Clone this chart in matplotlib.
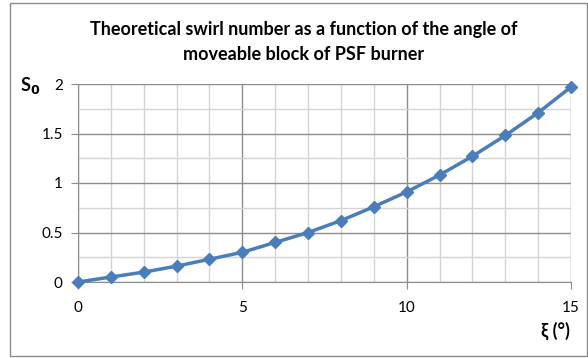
import matplotlib
matplotlib.use("Agg")
import matplotlib.pyplot as plt
from matplotlib.patches import Rectangle
from matplotlib.ticker import MultipleLocator, FuncFormatter

# swirl number vs block angle
angle = [0, 1, 2, 3, 4, 5, 6, 7, 8, 9, 10, 11, 12, 13, 14, 15]
swirl = [0.0, 0.05, 0.10, 0.16, 0.23, 0.30, 0.40, 0.50, 0.62, 0.76,
         0.91, 1.08, 1.27, 1.48, 1.71, 1.97]

plt.rcParams["font.family"] = ["Lato", "DejaVu Sans"]

fig = plt.figure(figsize=(5.88, 3.58), dpi=100)
ax = fig.add_axes([78 / 588, 1 - 282 / 358, (571 - 78) / 588, (282 - 84) / 358])

ax.plot(angle, swirl, color="#4a7ebb", lw=2.5, marker="D", ms=6,
        mec="#4a7ebb", mfc="#4a7ebb", zorder=3, clip_on=False)

ax.set_xlim(0, 15)
ax.set_ylim(0, 2)
ax.xaxis.set_major_locator(MultipleLocator(5))
ax.xaxis.set_minor_locator(MultipleLocator(1))
ax.yaxis.set_major_locator(MultipleLocator(0.5))
ax.yaxis.set_minor_locator(MultipleLocator(0.25))
ax.yaxis.set_major_formatter(FuncFormatter(lambda v, p: f"{v:g}"))

ax.grid(which="minor", color="#d4d4d4", lw=1)
ax.grid(which="major", color="#8c8c8c", lw=1)
for side in ["top", "right"]:
    ax.spines[side].set_visible(False)
for side in ["left", "bottom"]:
    ax.spines[side].set_color("#8c8c8c")
ax.tick_params(which="major", length=5, color="#8c8c8c", labelsize=11,
               labelcolor="#000000", pad=6)
ax.tick_params(which="minor", length=0)
ax.tick_params(axis="x", pad=9)

fig.text(0.516, 1 - 42 / 358,
         "Theoretical swirl number as a function of the angle of\nmoveable block of PSF burner",
         ha="center", va="center", fontsize=13, fontweight="bold",
         linespacing=1.6)
fig.text(20 / 588, 1 - 86 / 358, r"S$_\mathbf{0}$", ha="left", va="center",
         fontsize=13, fontweight="bold")
fig.text(555 / 588, 1 - 331 / 358, "ξ (°)", ha="center", va="center",
         fontsize=13, fontweight="bold")

fig.patches.append(Rectangle((10 / 588, 2 / 358), 577 / 588, 353 / 358,
                             transform=fig.transFigure, fill=False,
                             edgecolor="#8c8c8c", lw=1))

fig.savefig("out.png", dpi=100)
